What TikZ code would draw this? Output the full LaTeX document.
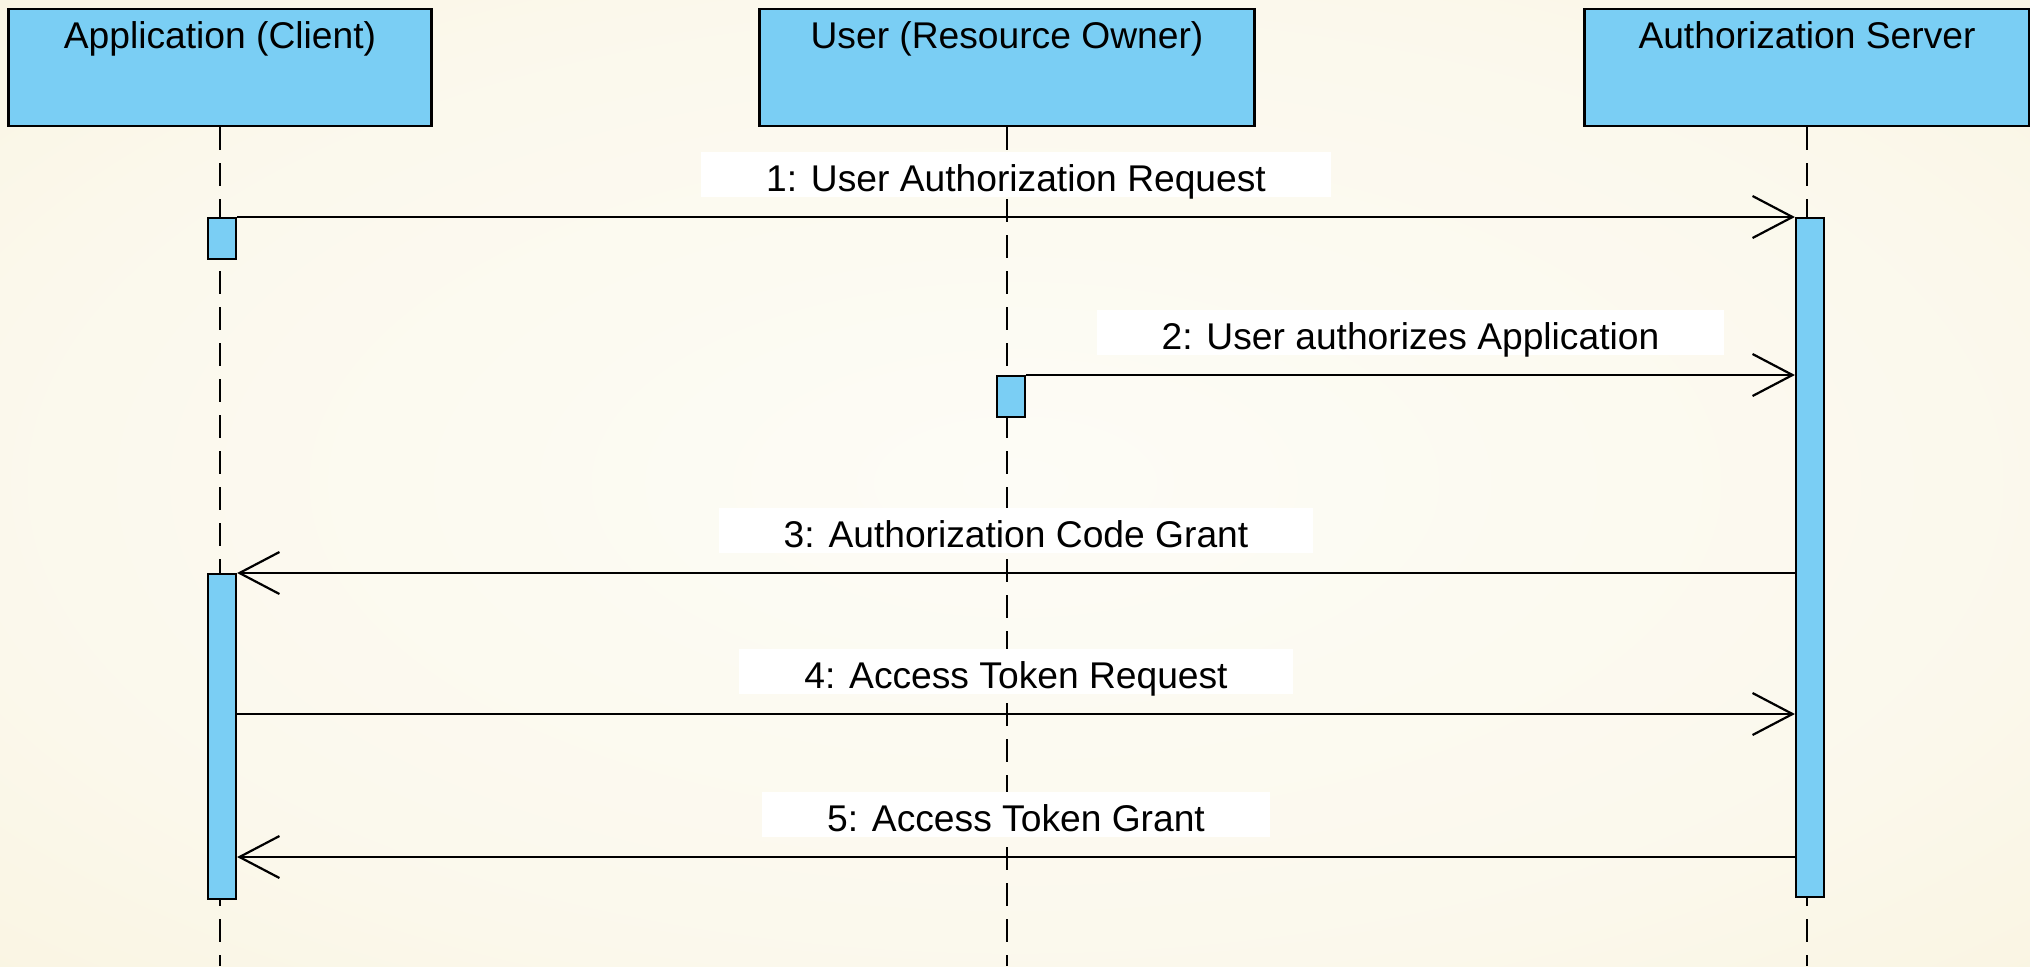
\documentclass[tikz,border=0pt]{standalone}
\usepackage{fontspec}
\setmainfont{Liberation Sans}
\usepackage{tikz}
\usetikzlibrary{arrows.meta}
\definecolor{lifeblue}{RGB}{122,206,244}
\definecolor{bgcream}{RGB}{247,240,214}
\definecolor{bglight}{RGB}{253,252,246}
\pgfdeclareradialshading{bgglow}{\pgfpoint{0bp}{0bp}}{color(0bp)=(bglight); color(25bp)=(bglight!70!bgcream); color(50bp)=(bgcream); color(71bp)=(bgcream)}

\begin{document}
\begin{tikzpicture}[x=0.5pt,y=-0.5pt,
    font=\fontsize{18.6}{22}\selectfont,
    actorbox/.style={draw,fill=lifeblue,line width=1.2pt,inner sep=0pt,anchor=north,text height=19.5pt,text depth=39pt},
    actbar/.style={draw,fill=lifeblue,line width=1.1pt,inner sep=0pt,anchor=north,minimum width=14pt},
    lifeline/.style={line width=1.1pt,dash pattern=on 11.5pt off 6.5pt},
    msg/.style={line width=1.1pt,-{Straight Barb[length=20pt,width=21pt]}},
    msglabel/.style={fill=white,inner xsep=32.5pt,inner ysep=0pt,text height=20pt,text depth=2.5pt,anchor=south,yshift=9.5pt}]
    \useasboundingbox (0,0) rectangle (2030,966);
    \shade[shading=bgglow] (0,0) rectangle (2030,966);
    
    \node[actorbox,minimum width=211.5pt] (app) at (220,8) {Application (Client)};
    \node[actorbox,minimum width=247.5pt] (usr) at (1007,8) {User (Resource Owner)};
    \node[actorbox,minimum width=222.5pt] (srv) at (1807,8) {Authorization Server};
    
    \coordinate (appbot) at (220,966);
    \coordinate (usrbot) at (1007,966);
    \coordinate (srvbot) at (1807,966);
    \draw[lifeline] (app.south) -- (appbot);
    \draw[lifeline] (usr.south) -- (usrbot);
    \draw[lifeline] (srv.south) -- (srvbot);
    
    \node[actbar,minimum height=20.5pt] (appA) at (222,217) {};
    \node[actbar,minimum height=20.5pt] (usrA) at (1011,375) {};
    \node[actbar,minimum height=339.5pt] (srvA) at (1810,217) {};
    \node[actbar,minimum height=162.5pt] (appB) at (222,573) {};
    
    \coordinate (t4) at (220,714);
    \coordinate (t5) at (220,857);
    \draw[msg] (appA.north east) -- node[msglabel]{1: User Authorization Request} (srvA.north west);
    \draw[msg] (usrA.north east) -- node[msglabel]{2: User authorizes Application} (usrA.north east -| srvA.west);
    \draw[msg] (appB.north east -| srvA.west) -- node[msglabel]{3: Authorization Code Grant} (appB.north east);
    \draw[msg] (t4 -| appB.east) -- node[msglabel]{4: Access Token Request} (t4 -| srvA.west);
    \draw[msg] (t5 -| srvA.west) -- node[msglabel]{5: Access Token Grant} (t5 -| appB.east);
\end{tikzpicture}
\end{document}
